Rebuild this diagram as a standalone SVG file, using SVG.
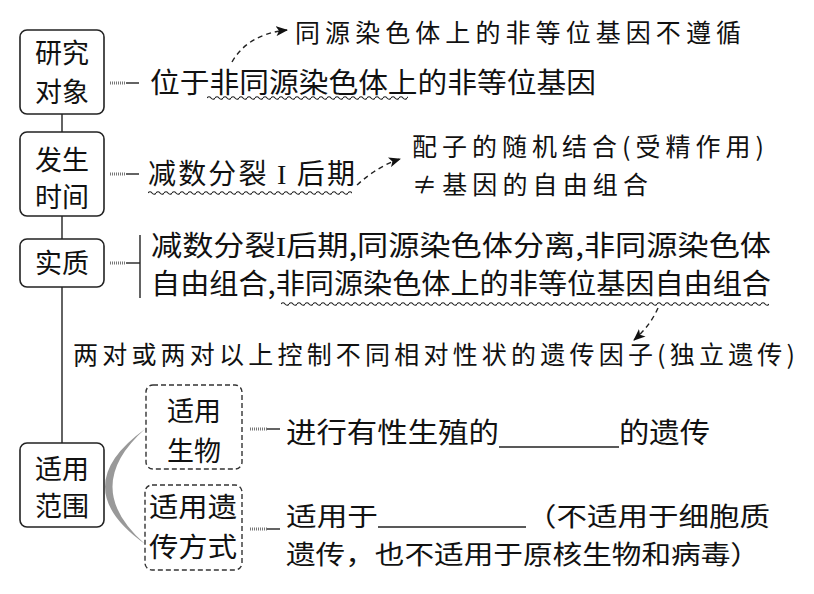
<svg xmlns="http://www.w3.org/2000/svg" width="814" height="594" viewBox="0 0 814 594">
<style>
.box{fill:#fff;stroke:#222;stroke-width:1.6}
.dbox{fill:#fff;stroke:#333;stroke-width:1.4;stroke-dasharray:5 3}
.lbl{font-family:"Noto Sans CJK SC","Liberation Sans",sans-serif;font-size:27px;fill:#111;text-anchor:middle}
.txt{font-family:"Noto Sans CJK SC","Liberation Sans",sans-serif;font-size:28px;fill:#111}
.txs{font-family:"Noto Sans CJK SC","Liberation Sans",sans-serif;font-size:26px;fill:#111}
.note{font-family:"Noto Sans CJK SC","Liberation Sans",sans-serif;font-size:25px;fill:#111}
.rn{font-family:"Liberation Serif",serif}
.line{stroke:#222;stroke-width:1.4;fill:none}
.hatch{stroke:#777;stroke-width:3;stroke-dasharray:1 1;fill:none}
.darr{stroke:#222;stroke-width:1.4;fill:none;stroke-dasharray:5 4}
</style>
<defs>
<pattern id="wave" patternUnits="userSpaceOnUse" width="8" height="6">
<path d="M0,3 Q2,0.5 4,3 T8,3" fill="none" stroke="#222" stroke-width="1.2"/>
</pattern>
<marker id="ah" viewBox="0 0 12 10" refX="11" refY="5" markerWidth="12" markerHeight="10" markerUnits="userSpaceOnUse" orient="auto">
<path d="M0,0 L12,5 L0,10 L3,5 Z" fill="#111"/>
</marker>
</defs>

<g id="connectors">
<line class="line" x1="62" y1="113" x2="62" y2="132"/>
<line class="line" x1="62" y1="215" x2="62" y2="239"/>
<line class="line" x1="62" y1="287" x2="62" y2="443"/>
<line class="hatch" x1="110" y1="83" x2="126" y2="83"/><line class="line" x1="126" y1="83" x2="139" y2="83"/>
<line class="hatch" x1="110" y1="174" x2="126" y2="174"/><line class="line" x1="126" y1="174" x2="139" y2="174"/>
<line class="hatch" x1="110" y1="263" x2="126" y2="263"/><line class="line" x1="126" y1="263" x2="140" y2="263"/>
<line class="line" x1="140" y1="235" x2="140" y2="298"/>
<line class="hatch" x1="250" y1="429" x2="267" y2="429"/><line class="line" x1="267" y1="429" x2="280" y2="429"/>
<line class="hatch" x1="250" y1="529" x2="267" y2="529"/><line class="line" x1="267" y1="529" x2="280" y2="529"/>
<path d="M145,429 Q65,487 145,544 Q80,487 145,429 Z" fill="#999"/>
<path class="darr" d="M232,62 Q248,34 287,30" marker-end="url(#ah)"/>
<path class="darr" d="M357,185 Q378,166 400,159" marker-end="url(#ah)"/>
<path class="darr" d="M658,308 Q650,326 634,340" marker-end="url(#ah)"/>
</g>

<g id="n1">
<rect class="box" x="20" y="30" width="84" height="84" rx="7"/>
<text class="lbl" x="62" y="63">研究</text>
<text class="lbl" x="62" y="102">对象</text>
<text class="txt" x="150" y="93" textLength="446" lengthAdjust="spacingAndGlyphs">位于非同源染色体上的非等位基因</text>
<rect x="0" y="0" width="201" height="6" fill="url(#wave)" transform="translate(207,95)"/>
<text class="note" x="295" y="42" textLength="446" lengthAdjust="spacing">同源染色体上的非等位基因不遵循</text>
</g>

<g id="n2">
<rect class="box" x="20" y="132" width="84" height="84" rx="7"/>
<text class="lbl" x="62" y="170">发生</text>
<text class="lbl" x="62" y="207">时间</text>
<text class="txt" x="148" y="184" textLength="207" lengthAdjust="spacing">减数分裂 <tspan class="rn">I</tspan> 后期</text>
<rect x="0" y="0" width="204" height="6" fill="url(#wave)" transform="translate(148,190)"/>
<text class="note" x="412" y="156" textLength="352" lengthAdjust="spacing">配子的随机结合(受精作用)</text>
<text class="note" x="412" y="194" textLength="236" lengthAdjust="spacing">≠基因的自由组合</text>
</g>

<g id="n3">
<rect class="box" x="20" y="239" width="84" height="48" rx="7"/>
<text class="lbl" x="62" y="273">实质</text>
<text class="txt" x="151" y="256" textLength="620" lengthAdjust="spacingAndGlyphs">减数分裂<tspan class="rn">I</tspan>后期,同源染色体分离,非同源染色体</text>
<text class="txt" x="151" y="294" textLength="620" lengthAdjust="spacingAndGlyphs">自由组合,非同源染色体上的非等位基因自由组合</text>
<rect x="0" y="0" width="488" height="6" fill="url(#wave)" transform="translate(281,301)"/>
<text class="note" x="73" y="364" textLength="722" lengthAdjust="spacing">两对或两对以上控制不同相对性状的遗传因子(独立遗传)</text>
</g>

<g id="n4">
<rect class="box" x="20" y="443" width="84" height="84" rx="7"/>
<text class="lbl" x="62" y="479">适用</text>
<text class="lbl" x="62" y="516">范围</text>
</g>

<g id="n5">
<rect class="dbox" x="146" y="385" width="96" height="84" rx="7"/>
<text class="lbl" x="194" y="421">适用</text>
<text class="lbl" x="194" y="461">生物</text>
<text class="txt" x="286" y="443" textLength="213" lengthAdjust="spacingAndGlyphs">进行有性生殖的</text>
<line class="line" x1="499" y1="447" x2="619" y2="447"/>
<text class="txt" x="619" y="443" textLength="91" lengthAdjust="spacingAndGlyphs">的遗传</text>
</g>

<g id="n6">
<rect class="dbox" x="145" y="485" width="97" height="85" rx="7"/>
<text class="lbl" x="193" y="517" textLength="88" lengthAdjust="spacingAndGlyphs">适用遗</text>
<text class="lbl" x="193" y="557" textLength="88" lengthAdjust="spacingAndGlyphs">传方式</text>
<text class="txs" x="286" y="526" textLength="92" lengthAdjust="spacingAndGlyphs">适用于</text>
<line class="line" x1="378" y1="527" x2="526" y2="527"/>
<text class="txs" x="526" y="526" textLength="244" lengthAdjust="spacingAndGlyphs">（不适用于细胞质</text>
<text class="txs" x="286" y="564" textLength="474" lengthAdjust="spacingAndGlyphs">遗传，也不适用于原核生物和病毒）</text>
</g>
</svg>
